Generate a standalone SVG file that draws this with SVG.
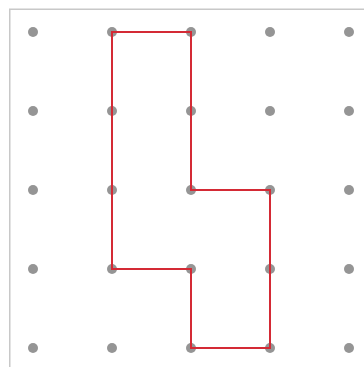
<svg xmlns="http://www.w3.org/2000/svg" width="364" height="367" viewBox="0 0 364 367">
<style>
.dot{fill:#959595}
.frame{fill:none;stroke:#c8c8c8;stroke-width:1.5}
.shape{fill:none;stroke:#d42a35;stroke-width:2}
</style>
<rect width="364" height="367" fill="#ffffff"/>
<rect class="frame" x="9.75" y="9.25" width="400" height="400"/>
<g id="dots">
<circle class="dot" cx="33" cy="32" r="5"/><circle class="dot" cx="112" cy="32" r="5"/><circle class="dot" cx="191" cy="32" r="5"/><circle class="dot" cx="270" cy="32" r="5"/><circle class="dot" cx="349" cy="32" r="5"/>
<circle class="dot" cx="33" cy="111" r="5"/><circle class="dot" cx="112" cy="111" r="5"/><circle class="dot" cx="191" cy="111" r="5"/><circle class="dot" cx="270" cy="111" r="5"/><circle class="dot" cx="349" cy="111" r="5"/>
<circle class="dot" cx="33" cy="190" r="5"/><circle class="dot" cx="112" cy="190" r="5"/><circle class="dot" cx="191" cy="190" r="5"/><circle class="dot" cx="270" cy="190" r="5"/><circle class="dot" cx="349" cy="190" r="5"/>
<circle class="dot" cx="33" cy="269" r="5"/><circle class="dot" cx="112" cy="269" r="5"/><circle class="dot" cx="191" cy="269" r="5"/><circle class="dot" cx="270" cy="269" r="5"/><circle class="dot" cx="349" cy="269" r="5"/>
<circle class="dot" cx="33" cy="348" r="5"/><circle class="dot" cx="112" cy="348" r="5"/><circle class="dot" cx="191" cy="348" r="5"/><circle class="dot" cx="270" cy="348" r="5"/><circle class="dot" cx="349" cy="348" r="5"/>
</g>
<g id="connectors">
<polygon class="shape" points="112,32 191,32 191,190 270,190 270,348 191,348 191,269 112,269"/>
</g>
</svg>
